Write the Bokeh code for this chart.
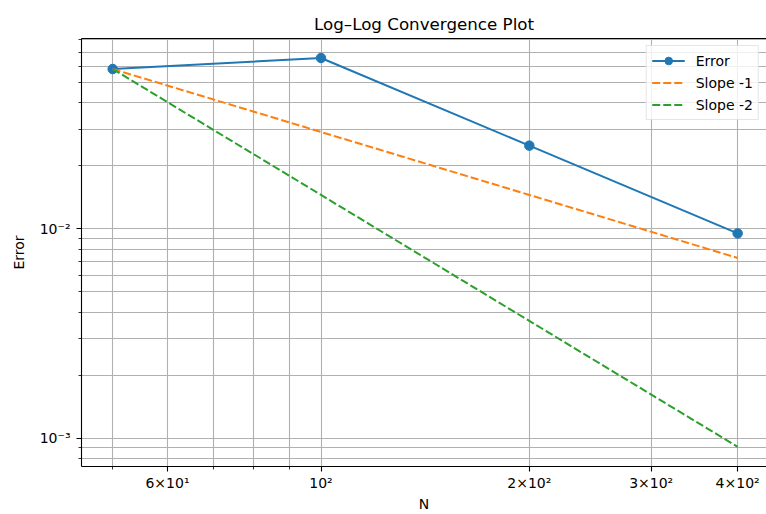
from bokeh.plotting import figure
from bokeh.models import FixedTicker, CustomJSTickFormatter, LogAxis
from bokeh.embed import file_html
from bokeh.resources import INLINE

# ---- data ----
N = [50, 100, 200, 400]
error = [0.0581, 0.0656, 0.0250, 0.00951]
slope1 = [0.0581, 0.02905, 0.01453, 0.00726]
slope2 = [0.0581, 0.01453, 0.00363, 0.000908]

x_major = [60, 100, 200, 300, 400]
x_major_labels = ["6×10¹", "10²", "2×10²", "3×10²", "4×10²"]
x_minor = [50, 70, 80, 90]
y_major = [0.001, 0.01]
y_major_labels = ["10⁻³", "10⁻²"]
y_minor = [0.0008, 0.0009, 0.002, 0.003, 0.004, 0.005, 0.006, 0.007, 0.008, 0.009,
           0.02, 0.03, 0.04, 0.05, 0.06, 0.07, 0.08]

FONT = "DejaVu Sans"
GRID = "#b0b0b0"

p = figure(width=766, height=514, x_axis_type="log", y_axis_type="log",
           x_range=(45.07, 440.3), y_range=(0.000731, 0.0813),
           output_backend="svg", toolbar_location=None,
           min_border_left=81, min_border_right=0, min_border_top=38, min_border_bottom=0,
           title="Log–Log Convergence Plot")
p.outline_line_color = None
p.background_fill_color = "white"
p.border_fill_color = "white"

p.title.text_font = FONT
p.title.text_font_size = "16.7px"
p.title.text_font_style = "normal"
p.title.align = "center"
p.title.text_color = "black"

fmt_code = """
const i = vals.findIndex(v => Math.abs(v - tick) / v < 1e-6);
return i >= 0 ? labels[i] : '';
"""
p.xaxis.ticker = FixedTicker(ticks=x_major, minor_ticks=x_minor)
p.xaxis.formatter = CustomJSTickFormatter(args=dict(vals=x_major, labels=x_major_labels), code=fmt_code)
p.yaxis.ticker = FixedTicker(ticks=y_major, minor_ticks=y_minor)
p.yaxis.formatter = CustomJSTickFormatter(args=dict(vals=y_major, labels=y_major_labels), code=fmt_code)

for ax in (p.xaxis, p.yaxis):
    ax.axis_line_color = "black"
    ax.axis_line_width = 1.1
    ax.major_tick_line_color = "black"
    ax.minor_tick_line_color = "black"
    ax.major_tick_line_width = 1.1
    ax.minor_tick_line_width = 0.8
    ax.major_tick_in = 0
    ax.minor_tick_in = 0
    ax.major_tick_out = 5
    ax.minor_tick_out = 3
    ax.major_label_text_font = FONT
    ax.major_label_text_font_size = "14px"
    ax.major_label_text_color = "black"
    ax.axis_label_text_font = FONT
    ax.axis_label_text_font_size = "14px"
    ax.axis_label_text_font_style = "normal"
    ax.axis_label_text_color = "black"

p.xaxis.axis_label = "N"
p.yaxis.axis_label = "Error"
p.xaxis.major_label_standoff = 3
p.yaxis.major_label_standoff = 6
p.xaxis.axis_label_standoff = 2
p.yaxis.axis_label_standoff = 10

for g in (p.xgrid, p.ygrid):
    g.grid_line_color = GRID
    g.grid_line_width = 1.1
    g.minor_grid_line_color = GRID
    g.minor_grid_line_width = 1.1

top = LogAxis(ticker=FixedTicker(ticks=[]), major_label_text_font_size="0px",
              major_tick_out=0, minor_tick_out=0, major_label_standoff=0,
              axis_line_color="black", axis_line_width=1.1)
p.add_layout(top, "above")

p.line(N, error, line_color="#1f77b4", line_width=2, legend_label="Error")
p.scatter(N, error, size=9.5, fill_color="#1f77b4", line_color="#1f77b4", legend_label="Error")
p.line(N, slope1, line_color="#ff7f0e", line_width=2, line_dash="8 3", legend_label="Slope -1")
p.line(N, slope2, line_color="#2ca02c", line_width=2, line_dash="8 3", legend_label="Slope -2")

lg = p.legend[0]
lg.location = "top_right"
lg.margin = 7
lg.padding = 5
lg.spacing = 3
lg.label_height = 19
lg.glyph_height = 19
lg.glyph_width = 33
lg.label_standoff = 11
lg.label_text_font = FONT
lg.label_text_font_size = "14px"
lg.label_text_color = "black"
lg.border_line_color = "#cccccc"
lg.border_line_width = 1
lg.background_fill_alpha = 0.8

open("out.html", "w").write(file_html(p, INLINE))
